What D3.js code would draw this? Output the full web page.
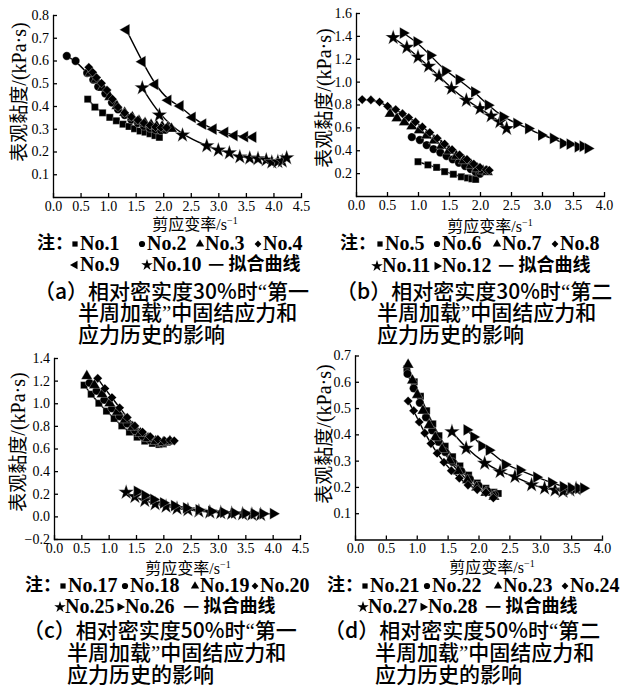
<!DOCTYPE html>
<html>
<head>
<meta charset="utf-8">
<script src="https://cdn.jsdelivr.net/npm/d3@7"></script>
<style>
body { margin: 0; background: #fff; }
svg { display: block; }
.axis path, .axis line { stroke: #000; stroke-width: 1.3; }
.fit { fill: none; stroke: #000; stroke-width: 1.4; }
.cjk { font-family: "Noto Sans CJK SC", sans-serif; }
.lat { font-family: "Liberation Serif", serif; }
</style>
</head>
<body>
<svg width="630" height="689"></svg>
<script>
// ---- data: [shear rate (1/s), apparent viscosity (kPa·s)] ----
// (a) Dr = 30%, first half cycle
var no1 = [[0.63,0.43],[0.76,0.395],[0.9,0.37],[1.03,0.35],[1.15,0.335],[1.27,0.32],[1.38,0.31],[1.48,0.30],[1.58,0.29],[1.67,0.285],[1.76,0.278],[1.85,0.27],[1.93,0.262]];
var no2 = [[0.25,0.62],[0.41,0.598],[0.62,0.545],[0.73,0.515],[0.82,0.485],[0.95,0.455],[1.07,0.415],[1.18,0.385],[1.3,0.36],[1.42,0.34],[1.54,0.325],[1.65,0.312],[1.76,0.303],[1.86,0.297],[1.96,0.293],[2.04,0.295]];
var no3 = [[0.68,0.545],[0.78,0.515],[0.9,0.48],[1.03,0.44],[1.16,0.40],[1.3,0.37],[1.44,0.35],[1.56,0.335],[1.67,0.325],[1.78,0.318],[1.88,0.312],[1.98,0.31],[2.08,0.305],[2.15,0.30]];
var no4 = [[0.65,0.57],[0.72,0.548],[0.79,0.525],[0.88,0.50],[0.98,0.47],[1.08,0.43],[1.18,0.395],[1.3,0.37],[1.42,0.352],[1.54,0.338],[1.65,0.325],[1.76,0.315],[1.86,0.308],[1.96,0.305],[2.06,0.305]];
var no9 = [[1.33,0.735],[1.62,0.595],[1.85,0.495],[2.09,0.425],[2.31,0.40],[2.53,0.35],[2.72,0.32],[2.91,0.298],[3.12,0.284],[3.29,0.27],[3.48,0.265],[3.63,0.263]];
var no10 = [[1.62,0.48],[1.93,0.36],[2.35,0.272],[2.79,0.225],[3.0,0.206],[3.2,0.194],[3.39,0.176],[3.57,0.171],[3.72,0.168],[3.87,0.163],[3.97,0.153],[4.08,0.155],[4.16,0.158],[4.24,0.172]];
// (b) Dr = 30%, second half cycle
var no5 = [[1.0,0.30],[1.16,0.272],[1.3,0.25],[1.43,0.213],[1.57,0.19],[1.7,0.168],[1.8,0.158],[1.87,0.15],[1.93,0.145]];
var no6 = [[0.9,0.515],[1.03,0.49],[1.14,0.445],[1.25,0.41],[1.36,0.38],[1.46,0.35],[1.56,0.32],[1.66,0.29],[1.76,0.262],[1.85,0.235],[1.93,0.21],[2.0,0.195]];
var no7 = [[0.55,0.72],[0.66,0.68],[0.78,0.645],[0.9,0.61],[1.02,0.575],[1.14,0.53],[1.26,0.485],[1.38,0.44],[1.5,0.395],[1.62,0.35],[1.74,0.31],[1.86,0.27],[1.96,0.24],[2.05,0.22],[2.12,0.21]];
var no8 = [[0.1,0.843],[0.24,0.84],[0.38,0.822],[0.51,0.785],[0.64,0.756],[0.75,0.72],[0.85,0.686],[0.96,0.648],[1.07,0.604],[1.19,0.555],[1.31,0.505],[1.43,0.455],[1.55,0.405],[1.67,0.36],[1.79,0.32],[1.9,0.28],[2.0,0.25],[2.1,0.23],[2.15,0.225]];
var no11 = [[0.6,1.385],[0.82,1.30],[1.0,1.215],[1.17,1.135],[1.34,1.047],[1.54,0.94],[1.78,0.837],[2.0,0.765],[2.18,0.70],[2.32,0.648],[2.43,0.59]];
var no12 = [[0.76,1.425],[0.98,1.347],[1.2,1.23],[1.44,1.093],[1.66,1.018],[1.91,0.91],[2.13,0.794],[2.37,0.692],[2.59,0.634],[2.78,0.59],[2.99,0.532],[3.18,0.503],[3.34,0.46],[3.45,0.453],[3.58,0.43],[3.66,0.435],[3.74,0.416]];
// (c) Dr = 50%, first half cycle
var no17 = [[0.55,1.16],[0.68,1.08],[0.82,1.0],[0.96,0.93],[1.1,0.865],[1.24,0.80],[1.38,0.745],[1.52,0.70],[1.66,0.665],[1.8,0.645],[1.92,0.635],[2.0,0.64]];
var no18 = [[0.65,1.18],[0.78,1.11],[0.92,1.03],[1.06,0.955],[1.2,0.885],[1.34,0.82],[1.48,0.76],[1.62,0.71],[1.76,0.675],[1.9,0.655],[2.02,0.65],[2.1,0.66]];
var no19 = [[0.6,1.24],[0.74,1.16],[0.88,1.08],[1.02,1.0],[1.16,0.925],[1.3,0.855],[1.44,0.79],[1.58,0.735],[1.72,0.69],[1.86,0.665],[2.0,0.655],[2.12,0.665]];
var no20 = [[0.8,1.22],[0.93,1.13],[1.06,1.05],[1.2,0.96],[1.34,0.875],[1.48,0.80],[1.62,0.745],[1.76,0.705],[1.9,0.68],[2.02,0.67],[2.12,0.675],[2.2,0.668]];
var no25 = [[1.32,0.212],[1.48,0.175],[1.66,0.14],[1.85,0.11],[2.05,0.088],[2.25,0.07],[2.45,0.058],[2.65,0.046],[2.85,0.038],[3.05,0.032],[3.25,0.026],[3.45,0.022],[3.62,0.018],[3.78,0.016]];
var no26 = [[1.52,0.221],[1.66,0.185],[1.82,0.15],[2.0,0.12],[2.2,0.095],[2.42,0.075],[2.65,0.058],[2.88,0.045],[3.1,0.036],[3.3,0.03],[3.5,0.026],[3.66,0.024],[3.82,0.023],[4.01,0.024]];
// (d) Dr = 50%, second half cycle
var no21 = [[0.84,0.65],[0.96,0.60],[1.06,0.545],[1.16,0.49],[1.26,0.44],[1.36,0.395],[1.46,0.355],[1.58,0.315],[1.7,0.28],[1.84,0.245],[1.98,0.215],[2.12,0.195],[2.25,0.18],[2.32,0.175]];
var no22 = [[0.85,0.63],[0.95,0.575],[1.05,0.52],[1.15,0.465],[1.25,0.415],[1.35,0.372],[1.46,0.333],[1.58,0.295],[1.72,0.26],[1.86,0.23],[2.0,0.205],[2.14,0.185],[2.26,0.17]];
var no23 = [[0.86,0.665],[0.93,0.605],[1.01,0.55],[1.1,0.49],[1.2,0.435],[1.3,0.388],[1.41,0.343],[1.53,0.3],[1.67,0.26],[1.82,0.225],[1.97,0.198],[2.12,0.178],[2.25,0.163]];
var no24 = [[0.86,0.527],[0.95,0.49],[1.04,0.447],[1.13,0.405],[1.23,0.365],[1.33,0.328],[1.44,0.294],[1.56,0.262],[1.69,0.233],[1.83,0.207],[1.98,0.19],[2.12,0.178],[2.24,0.158]];
var no27 = [[1.57,0.41],[1.8,0.347],[2.1,0.29],[2.35,0.258],[2.59,0.239],[2.86,0.208],[3.07,0.195],[3.24,0.188],[3.37,0.183],[3.48,0.188],[3.58,0.193]];
var no28 = [[1.81,0.417],[1.92,0.39],[2.05,0.356],[2.17,0.34],[2.43,0.285],[2.67,0.264],[2.94,0.237],[3.18,0.216],[3.37,0.201],[3.5,0.196],[3.62,0.195],[3.7,0.195]];

// series names, shapes and tick labels
var namesA = ['No.1','No.2','No.3','No.4','No.9','No.10'];
var namesB = ['No.5','No.6','No.7','No.8','No.11','No.12'];
var namesC = ['No.17','No.18','No.19','No.20','No.25','No.26'];
var namesD = ['No.21','No.22','No.23','No.24','No.27','No.28'];
var shapesA = ['square','circle','triangle','diamond','left','star'];
var shapesBCD = ['square','circle','triangle','diamond','star','right'];

var xTicks45 = [0,0.5,1.0,1.5,2.0,2.5,3.0,3.5,4.0,4.5];
var xTicks40 = [0,0.5,1.0,1.5,2.0,2.5,3.0,3.5,4.0];
var yTicksA = [0.1,0.2,0.3,0.4,0.5,0.6,0.7,0.8];
var yTicksB = [0.2,0.4,0.6,0.8,1.0,1.2,1.4,1.6];
var yTicksC = [-0.2,0,0.2,0.4,0.6,0.8,1.0,1.2,1.4];
var yTicksD = [0.1,0.2,0.3,0.4,0.5,0.6,0.7];

var xTitle = '剪应变率/s';
var yTitleCn = '表观黏度';
var yTitleUnit = '/(kPa·s)';
var noteLabel = '注：';
var fitLabel = '— 拟合曲线';
var captionA = ['（a）相对密实度30%时“第一', '半周加载”中固结应力和', '应力历史的影响'];
var captionB = ['（b）相对密实度30%时“第二', '半周加载”中固结应力和', '应力历史的影响'];
var captionC = ['（c）相对密实度50%时“第一', '半周加载”中固结应力和', '应力历史的影响'];
var captionD = ['（d）相对密实度50%时“第二', '半周加载”中固结应力和', '应力历史的影响'];

// ---- layout of the four panels ----
var panels = [
  { series: [no1,no2,no3,no4,no9,no10], names: namesA, shapes: shapesA, caption: captionA,
    xDom: [0,4.5], xTicks: xTicks45, yDom: [0,0.8], yTicks: yTicksA,
    xr: [53,301], yr: [197,15], xt: [195,224], yt: [20,92],
    note: [37,243], row1: [75,142,200,258], row2: [75,147], rowY: [243,264], fitX: 208,
    cap: [[34,292],[78,313],[78,335]] },
  { series: [no5,no6,no7,no8,no11,no12], names: namesB, shapes: shapesBCD, caption: captionB,
    xDom: [0,4.0], xTicks: xTicks40, yDom: [0,1.6], yTicks: yTicksB,
    xr: [356,604], yr: [196,13], xt: [490,226], yt: [325,98],
    note: [340,243], row1: [380,437,497,555], row2: [377,437], rowY: [243,265], fitX: 498,
    cap: [[336,292],[377,313],[377,335]] },
  { series: [no17,no18,no19,no20,no25,no26], names: namesC, shapes: shapesBCD, caption: captionC,
    xDom: [0,4.5], xTicks: xTicks45, yDom: [-0.2,1.4], yTicks: yTicksC,
    xr: [54,300], yr: [539,358], xt: [188,568], yt: [19,442],
    note: [25,585], row1: [63,125,195,255], row2: [60,120], rowY: [585,606], fitX: 183,
    cap: [[23,631],[67,653],[67,675]] },
  { series: [no21,no22,no23,no24,no27,no28], names: namesD, shapes: shapesBCD, caption: captionD,
    xDom: [0,4.0], xTicks: xTicks40, yDom: [0,0.7], yTicks: yTicksD,
    xr: [355,602], yr: [539.5,355.5], xt: [492,567], yt: [325,434],
    note: [327,585], row1: [365,427,498,565], row2: [363,423], rowY: [585,606], fitX: 485,
    cap: [[324,631],[375,653],[375,675]] }
];

var svg = d3.select('svg');

// marker path + rotation for each shape name
function marker(shape, k) {
  var type = { square: d3.symbolSquare, circle: d3.symbolCircle, triangle: d3.symbolTriangle,
               diamond: d3.symbolSquare, left: d3.symbolTriangle, right: d3.symbolTriangle,
               star: d3.symbolStar }[shape];
  var size = { square: 50, circle: 55, triangle: 55, diamond: 42, left: 60, right: 60, star: 75 }[shape];
  var rot = { diamond: 45, left: -90, right: 90 }[shape] || 0;
  return { d: d3.symbol().type(type).size(size * k)(), rot: rot };
}

// caption line: CJK text, with the curly quotes set narrow
function captionLine(sel, t) {
  t.split(/([“”])/).forEach(function(part) {
    if (!part) return;
    var q = part === '“' || part === '”';
    sel.append('tspan').attr('class', q ? 'lat' : 'cjk').text(part);
  });
}

panels.forEach(function(p) {
  var x = d3.scaleLinear().domain(p.xDom).range(p.xr);
  var y = d3.scaleLinear().domain(p.yDom).range(p.yr);
  var g = svg.append('g');

  // axes (ticks point inward)
  g.append('g')
    .attr('class', 'axis')
    .attr('transform', 'translate(0,' + p.yr[0] + ')')
    .call(d3.axisBottom(x).tickValues(p.xTicks).tickFormat(d3.format('.1f'))
      .tickSizeInner(-4).tickSizeOuter(0).tickPadding(4))
    .attr('font-family', '"Liberation Serif", serif')
    .attr('font-size', 14);
  g.append('g')
    .attr('class', 'axis')
    .attr('transform', 'translate(' + p.xr[0] + ',0)')
    .call(d3.axisLeft(y).tickValues(p.yTicks).tickFormat(d3.format('.1f'))
      .tickSizeInner(-4).tickSizeOuter(0).tickPadding(4))
    .attr('font-family', '"Liberation Serif", serif')
    .attr('font-size', 14);
  g.selectAll('.axis .domain').attr('stroke-linecap', 'square');

  // axis titles
  var xt = g.append('text')
    .attr('x', p.xt[0]).attr('y', p.xt[1]).attr('dy', '0.35em')
    .attr('text-anchor', 'middle');
  xt.append('tspan').attr('class', 'cjk').style('font-size', '16px').text(xTitle.slice(0, 4));
  xt.append('tspan').attr('class', 'lat').style('font-size', '16px').text(xTitle.slice(4));
  xt.append('tspan').attr('class', 'lat').style('font-size', '10px').attr('dy', '-6').text('−1');

  var yt = g.append('text')
    .attr('transform', 'translate(' + p.yt[0] + ',' + p.yt[1] + ') rotate(-90)')
    .attr('dy', '0.35em')
    .attr('text-anchor', 'middle');
  yt.append('tspan').attr('class', 'cjk').style('font-size', '19px').text(yTitleCn);
  yt.append('tspan').attr('class', 'lat').style('font-size', '20px').text(yTitleUnit);

  // fitted curves
  var line = d3.line()
    .x(function(d) { return x(d[0]); })
    .y(function(d) { return y(d[1]); })
    .curve(d3.curveBasis);
  g.selectAll('.fit')
    .data(p.series)
    .enter().append('path')
    .attr('class', 'fit')
    .attr('d', line);

  // measured points
  p.series.forEach(function(s, i) {
    var m = marker(p.shapes[i], 1);
    g.selectAll(null)
      .data(s)
      .enter().append('path')
      .attr('d', m.d)
      .attr('transform', function(d) {
        return 'translate(' + x(d[0]) + ',' + y(d[1]) + ') rotate(' + m.rot + ')';
      })
      .attr('fill', '#000')
      .attr('stroke', '#fff')
      .attr('stroke-width', 0.3);
  });

  // legend
  g.append('text')
    .attr('class', 'cjk')
    .attr('x', p.note[0]).attr('y', p.note[1]).attr('dy', '0.35em')
    .style('font-size', '18px').style('font-weight', 700)
    .text(noteLabel);

  function legendItem(i, sx, sy) {
    var m = marker(p.shapes[i], 0.55);
    g.append('path')
      .attr('d', m.d)
      .attr('transform', 'translate(' + sx + ',' + (sy + 1) + ') rotate(' + m.rot + ')')
      .attr('fill', '#000');
    g.append('text')
      .attr('class', 'lat')
      .attr('x', sx + 5).attr('y', sy).attr('dy', '0.35em')
      .style('font-size', '20px').style('font-weight', 700)
      .text(p.names[i]);
  }
  p.row1.forEach(function(sx, i) { legendItem(i, sx, p.rowY[0]); });
  p.row2.forEach(function(sx, i) { legendItem(i + 4, sx, p.rowY[1]); });
  g.append('text')
    .attr('class', 'cjk')
    .attr('x', p.fitX).attr('y', p.rowY[1]).attr('dy', '0.35em')
    .style('font-size', '18px').style('font-weight', 700)
    .text(fitLabel);

  // caption
  p.caption.forEach(function(t, i) {
    var c = g.append('text')
      .attr('x', p.cap[i][0]).attr('y', p.cap[i][1]).attr('dy', '0.35em')
      .style('font-size', '21px').style('font-weight', 500);
    captionLine(c, t);
  });
});
</script>
</body>
</html>
